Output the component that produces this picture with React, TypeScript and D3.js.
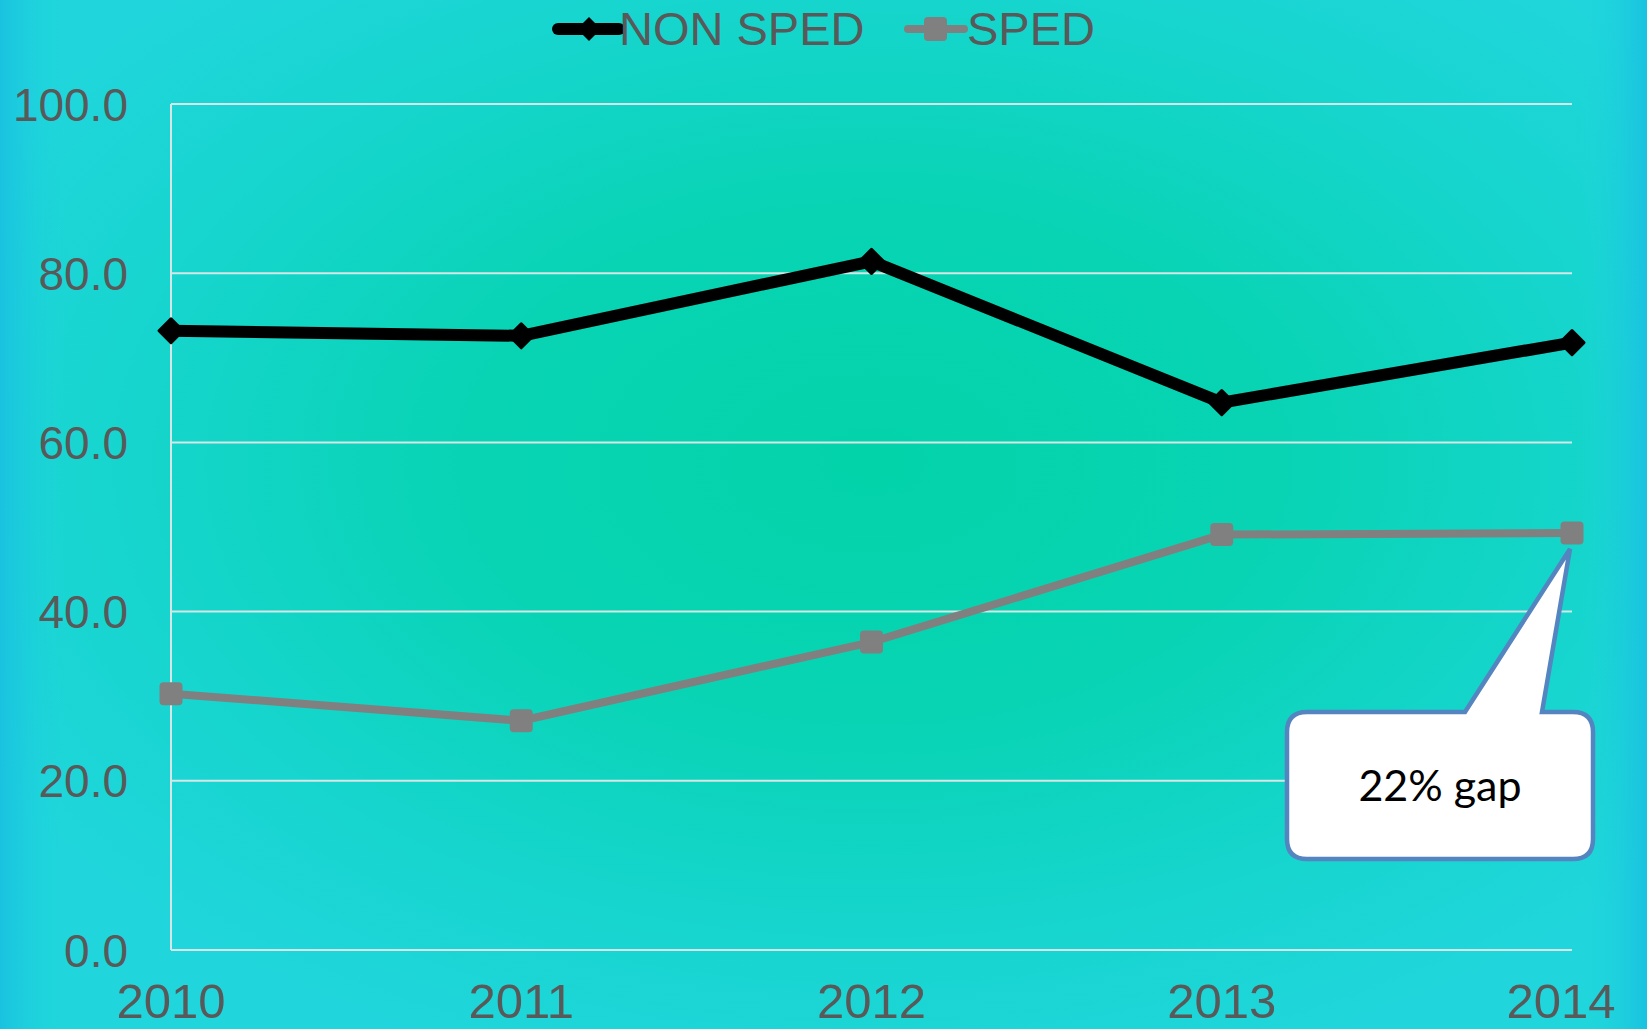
import * as d3 from 'd3'

const years = [2010, 2011, 2012, 2013, 2014]
const nonSped = [73.2, 72.6, 81.4, 64.7, 71.8]
const sped = [30.3, 27.1, 36.4, 49.1, 49.3]
const yTicks = [0, 20, 40, 60, 80, 100]
const seriesNames = ['NON SPED', 'SPED']
const calloutText = '22% gap'

const W = 1647
const H = 1029
const font = '"Liberation Sans", Arial, sans-serif'

export default function App() {
  const x = d3.scaleLinear().domain([2010, 2014]).range([171, 1572])
  const y = d3.scaleLinear().domain([0, 100]).range([950, 104])

  const line = d3
    .line<number>()
    .x((_, i) => x(years[i]))
    .y(d => y(d))

  // callout anchored under the last SPED point
  const tipX = x(years[4]) - 2
  const tipY = y(sped[4]) + 16
  const bx0 = tipX - 283
  const bx1 = tipX + 23
  const by0 = tipY + 163
  const by1 = tipY + 310
  const r = 20
  const calloutPath = [
    `M${bx0 + r},${by0}`,
    `L${tipX - 105},${by0}`,
    `L${tipX},${tipY}`,
    `L${tipX - 28},${by0}`,
    `L${bx1 - r},${by0}`,
    `Q${bx1},${by0} ${bx1},${by0 + r}`,
    `L${bx1},${by1 - r}`,
    `Q${bx1},${by1} ${bx1 - r},${by1}`,
    `L${bx0 + r},${by1}`,
    `Q${bx0},${by1} ${bx0},${by1 - r}`,
    `L${bx0},${by0 + r}`,
    `Q${bx0},${by0} ${bx0 + r},${by0}`,
    'Z',
  ].join(' ')

  const diamond = (cx: number, cy: number, s = 12) =>
    `M${cx},${cy - s} L${cx + s},${cy} L${cx},${cy + s} L${cx - s},${cy} Z`

  return (
    <svg
      width={W}
      height={H}
      style={{ position: 'absolute', left: 0, top: 0 }}
      fontFamily={font}
    >
      <defs>
        <radialGradient id="bg" cx="0.53" cy="0.45" r="0.62">
          <stop offset="0%" stopColor="#03d3a9" />
          <stop offset="40%" stopColor="#08d4b4" />
          <stop offset="75%" stopColor="#17d5cf" />
          <stop offset="100%" stopColor="#20d6dc" />
        </radialGradient>
        <linearGradient id="edge" x1="0" x2="1" y1="0" y2="0">
          <stop offset="0%" stopColor="#1ac2e0" stopOpacity="1" />
          <stop offset="4%" stopColor="#1ed6dc" stopOpacity="0" />
          <stop offset="96%" stopColor="#1ed6dc" stopOpacity="0" />
          <stop offset="100%" stopColor="#1ac2e0" stopOpacity="1" />
        </linearGradient>
      </defs>
      <rect width={W} height={H} fill="url(#bg)" />
      <rect width={W} height={H} fill="url(#edge)" />

      {/* grid */}
      {yTicks.map(t => (
        <g key={t}>
          <line
            x1={x(2010)}
            x2={x(2014)}
            y1={y(t)}
            y2={y(t)}
            stroke="#d6e6e6"
            strokeWidth={2}
          />
          <text
            x={128}
            y={y(t)}
            dy="0.36em"
            textAnchor="end"
            fontSize={46}
            fill="#595959"
          >
            {t.toFixed(1)}
          </text>
        </g>
      ))}
      <line
        x1={x(2010)}
        x2={x(2010)}
        y1={y(100)}
        y2={y(0)}
        stroke="#d6e6e6"
        strokeWidth={2}
      />

      {/* x labels */}
      {years.map(yr => (
        <text
          key={yr}
          x={Math.min(x(yr), W - 86)}
          y={1018}
          textAnchor="middle"
          fontSize={49}
          fill="#595959"
        >
          {yr}
        </text>
      ))}

      {/* SPED */}
      <path
        d={line(sped) ?? ''}
        fill="none"
        stroke="#808080"
        strokeWidth={8}
        strokeLinejoin="round"
      />
      {sped.map((v, i) => (
        <rect
          key={i}
          x={x(years[i]) - 11.5}
          y={y(v) - 11.5}
          width={23}
          height={23}
          rx={4}
          fill="#808080"
        />
      ))}

      {/* NON SPED */}
      <path
        d={line(nonSped) ?? ''}
        fill="none"
        stroke="#000"
        strokeWidth={12}
        strokeLinejoin="round"
      />
      {nonSped.map((v, i) => (
        <path
          key={i}
          d={diamond(x(years[i]), y(v))}
          fill="#000"
          stroke="#000"
          strokeWidth={3}
          strokeLinejoin="round"
        />
      ))}

      {/* legend */}
      <line x1={558} x2={619} y1={29} y2={29} stroke="#000" strokeWidth={12} strokeLinecap="round" />
      <path d={diamond(589, 29)} fill="#000" />
      <text x={619} y={45} fontSize={47} fill="#595959">
        {seriesNames[0]}
      </text>
      <line x1={908} x2={964} y1={29} y2={29} stroke="#808080" strokeWidth={8} strokeLinecap="round" />
      <rect x={924} y={17} width={23} height={24} rx={4} fill="#808080" />
      <text x={967} y={45} fontSize={47} fill="#595959">
        {seriesNames[1]}
      </text>

      {/* callout */}
      <path
        d={calloutPath}
        fill="#fff"
        stroke="#5585c0"
        strokeWidth={4.5}
        strokeLinejoin="miter"
      />
      <text
        x={(bx0 + bx1) / 2}
        y={tipY + 252}
        textAnchor="middle"
        fontSize={43}
        fontFamily="Lato, 'Open Sans', sans-serif"
        fill="#000"
      >
        {calloutText}
      </text>
    </svg>
  )
}
